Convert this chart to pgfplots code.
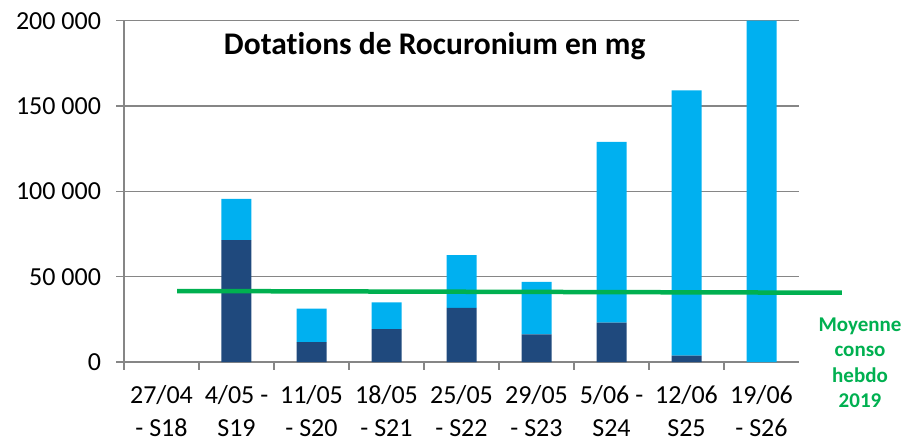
\documentclass[border=0pt]{standalone}
\usepackage{pgfplots}
\pgfplotsset{compat=1.18}
\usepackage{fontspec}
\setmainfont{Carlito}[Ligatures=NoCommon]
\definecolor{darkb}{HTML}{1F497D}
\definecolor{lightb}{HTML}{00B0F0}
\definecolor{gr}{HTML}{00B050}
\definecolor{axgray}{HTML}{868686}
\begin{document}
\begin{tikzpicture}
\useasboundingbox (-124bp,-78bp) rectangle (781bp,362bp);
\begin{axis}[
  scale only axis, width=675bp, height=341.3bp,
  at={(0,0)}, anchor=south west,
  xmin=-0.5, xmax=8.5, ymin=0, ymax=200000,
  ybar stacked, bar width=30bp,
  axis lines=left, axis line style={draw=axgray, line width=1.2bp, -},
  ymajorgrids, grid style={draw=axgray, line width=1.2bp},
  ytick={0,50000,100000,150000,200000},
  yticklabels={0,50 000,100 000,150 000,200 000},
  yticklabel style={anchor=east, xshift=-12bp},
  xtick={-0.5,0.5,1.5,2.5,3.5,4.5,5.5,6.5,7.5},
  xticklabels={{27/04\\- S18},{4/05 -\\S19},{11/05\\- S20},{18/05\\- S21},{25/05\\- S22},{29/05\\- S23},{5/06 -\\S24},{12/06\\S25},{19/06\\- S26}},
  xticklabel style={align=center, xshift=37.5bp, yshift=-12bp},
  tick style={draw=axgray, line width=1.2bp},
  tick align=outside, major tick length=7.5bp,
  scaled y ticks=false,
  tick label style={font=\fontsize{26bp}{33bp}\selectfont},
  clip=false,
]
\addplot[fill=darkb, draw=none] coordinates {(0,0) (1,71400) (2,11700) (3,19200) (4,31700) (5,16200) (6,23100) (7,3700) (8,0)};
\addplot[fill=lightb, draw=none] coordinates {(0,0) (1,24200) (2,19600) (3,15800) (4,30900) (5,30700) (6,105900) (7,155400) (8,200000)};
\end{axis}
\begin{axis}[
  scale only axis, width=675bp, height=341.3bp,
  at={(0,0)}, anchor=south west,
  xmin=-0.5, xmax=8.5, ymin=0, ymax=200000,
  hide axis, clip=false,
]
\addplot[gr, line width=4.5bp, mark=none] coordinates {(0.207,41600) (9.073,40600)};
\end{axis}
\node[anchor=base, font=\fontsize{31.5bp}{36bp}\selectfont\bfseries, inner sep=0pt] at (310.7bp,307bp) {Dotations de Rocuronium en mg};
\node[anchor=base, align=center, text=gr, font=\fontsize{21bp}{25.5bp}\selectfont\bfseries, inner sep=0pt] at (736bp,-45.7bp) {Moyenne\\conso\\hebdo\\2019};
\end{tikzpicture}
\end{document}
